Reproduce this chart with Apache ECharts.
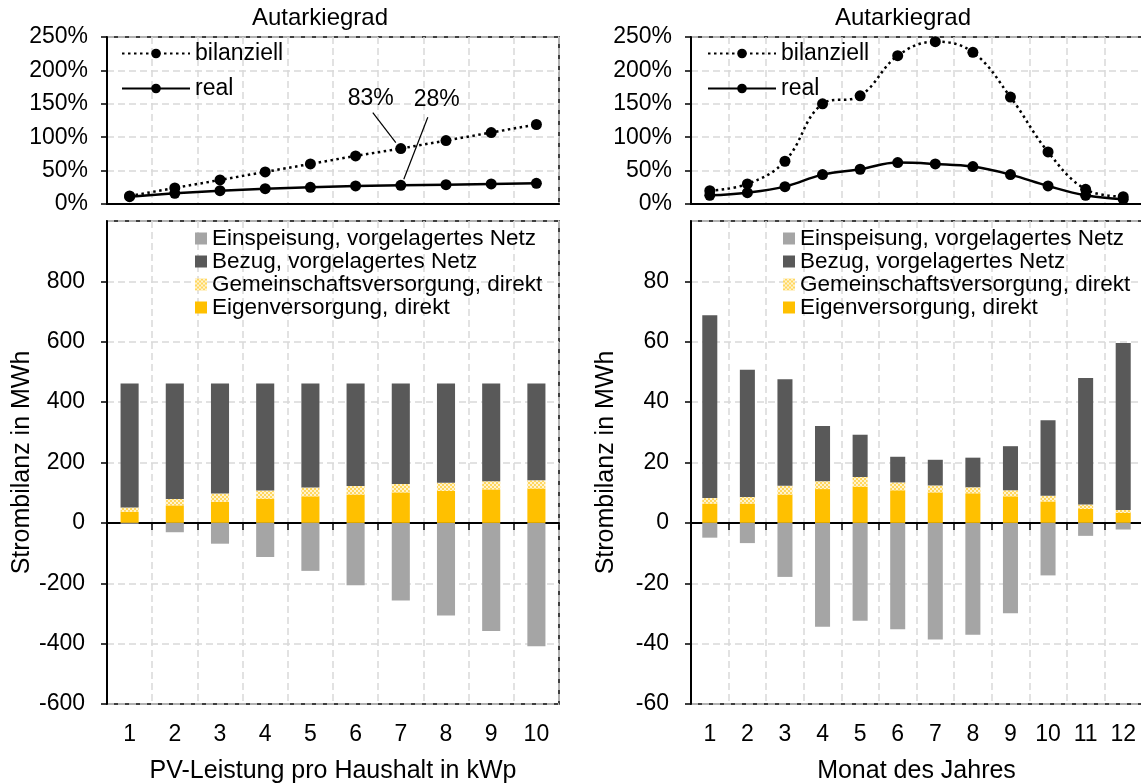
<!DOCTYPE html>
<html>
<head>
<meta charset="utf-8">
<script src="https://cdn.jsdelivr.net/npm/echarts@6/dist/echarts.min.js"></script>
<style>
  html, body { margin: 0; padding: 0; background: #fff; }
  #chart { width: 1141px; height: 784px; }
</style>
</head>
<body>
<div id="chart"></div>
<script>
// PV-Leistung pro Haushalt (kWp) - linke Seite
const kwpCats = ['1', '2', '3', '4', '5', '6', '7', '8', '9', '10'];
const kwpBilanziell = [12, 24, 36, 48, 60, 72, 83, 95, 107, 119];
const kwpReal = [11, 16, 20, 23, 25, 27, 28, 29, 30, 31];
const kwpEigen = [37, 58, 70, 80, 88, 94, 101, 106, 111, 114];
const kwpGemein = [14, 21, 27, 27, 29, 28, 28, 27, 27, 27];
const kwpBezug = [411, 383, 365, 355, 345, 340, 333, 329, 324, 321];
const kwpEinsp = [-3, -31, -69, -113, -159, -207, -257, -307, -358, -409];

// Monate - rechte Seite
const monthCats = ['1', '2', '3', '4', '5', '6', '7', '8', '9', '10', '11', '12'];
const monthBilanziell = [20, 30, 64, 150, 162, 222, 243, 227, 160, 78, 22, 11];
const monthReal = [13, 17, 26, 44, 52, 62, 60, 56, 44, 27, 13, 7];
const monthEigen = [6.4, 6.4, 9.4, 11.2, 12.0, 10.8, 10.1, 9.8, 8.8, 7.1, 4.6, 3.3];
const monthGemein = [1.8, 2.2, 2.9, 2.6, 3.2, 2.6, 2.3, 2.0, 2.0, 1.9, 1.5, 1.0];
const monthBezug = [60.6, 42.1, 35.3, 18.3, 14.0, 8.5, 8.5, 9.8, 14.6, 25.0, 41.9, 55.3];
const monthEinsp = [-4.9, -6.7, -17.9, -34.4, -32.4, -35.2, -38.6, -37.1, -29.9, -17.4, -4.3, -2.2];

const pctTicks = { min: 0, max: 250, interval: 50 };
const kwpTicks = { min: -600, max: 1000, interval: 200 };
const monthTicks = { min: -60, max: 100, interval: 20 };

const FONT = 'Liberation Sans, Arial, sans-serif';
const names = {
    einsp: 'Einspeisung, vorgelagertes Netz',
    bezug: 'Bezug, vorgelagertes Netz',
    gemein: 'Gemeinschaftsversorgung, direkt',
    eigen: 'Eigenversorgung, direkt'
};

function makeHatch() {
    const c = document.createElement('canvas');
    c.width = 4; c.height = 4;
    const ctx = c.getContext('2d');
    ctx.fillStyle = '#FFD75E';
    ctx.fillRect(0, 0, 4, 4);
    ctx.fillStyle = '#FFF3CF';
    ctx.fillRect(0, 0, 2, 2);
    ctx.fillRect(2, 2, 2, 2);
    return c;
}
const hatch = { image: makeHatch(), repeat: 'repeat' };

const dashGrid = { show: true, lineStyle: { color: '#d9d9d9', type: [7, 4], width: 1.5 } };

function catAxis(gridIndex, data, showLabels) {
    return {
        type: 'category', gridIndex, data,
        axisLine: { lineStyle: { color: '#000', width: 2 } },
        axisTick: { show: showLabels, length: 7, lineStyle: { color: '#000', width: 1.5 } },
        axisLabel: { show: showLabels, color: '#000', fontSize: 23, fontFamily: FONT, margin: 19 },
        splitLine: dashGrid
    };
}

function valAxis(gridIndex, ticks, fmt, margin) {
    return {
        type: 'value', gridIndex,
        min: ticks.min, max: ticks.max, interval: ticks.interval,
        axisLine: { show: true, lineStyle: { color: '#000', width: 2 } },
        axisTick: { show: true, length: 6, lineStyle: { color: '#000', width: 1.5 } },
        axisLabel: { color: '#000', fontSize: 23, fontFamily: FONT, margin, formatter: fmt },
        splitLine: dashGrid
    };
}

function lineSeries(name, data, idx, dotted, smooth) {
    return {
        name, type: 'line', data, xAxisIndex: idx, yAxisIndex: idx,
        smooth: smooth ? 0.4 : false,
        symbol: 'circle', symbolSize: 11,
        itemStyle: { color: '#000' },
        lineStyle: { color: '#000', width: 2.5, type: dotted ? [2.5, 3.5] : 'solid' },
        z: 5
    };
}

function barSeries(name, data, idx, color, stack) {
    return {
        name, type: 'bar', data, xAxisIndex: idx, yAxisIndex: idx,
        stack, barWidth: '40%',
        itemStyle: { color },
        emphasis: { disabled: true }
    };
}

function gridBox(left, top, width, height) {
    return { left, top, width, height, show: true, borderColor: '#000', borderWidth: 1.5, outerBoundsMode: 'none', containLabel: false };
}

const chart = echarts.init(document.getElementById('chart'), null, { renderer: 'canvas' });

const xAxes = [catAxis(0, kwpCats, false), catAxis(1, monthCats, false), catAxis(2, kwpCats, true), catAxis(3, monthCats, true)];
xAxes[2].name = 'PV-Leistung pro Haushalt in kWp';
xAxes[3].name = 'Monat des Jahres';
[2, 3].forEach(i => {
    xAxes[i].nameLocation = 'middle';
    xAxes[i].nameGap = 55;
    xAxes[i].nameTextStyle = { color: '#000', fontSize: 25, fontFamily: FONT };
});

const pctFmt = '{value}%';
const yAxes = [valAxis(0, pctTicks, pctFmt, 19), valAxis(1, pctTicks, pctFmt, 19), valAxis(2, kwpTicks, null, 22), valAxis(3, monthTicks, null, 22)];
yAxes[2].axisLabel.showMaxLabel = false;
yAxes[3].axisLabel.showMaxLabel = false;
[2, 3].forEach(i => {
    yAxes[i].name = 'Strombilanz in MWh';
    yAxes[i].nameLocation = 'middle';
    yAxes[i].nameGap = 72;
    yAxes[i].nameTextStyle = { color: '#000', fontSize: 25, fontFamily: FONT };
});

const legendText = { color: '#000', fontSize: 23, fontFamily: FONT };
const barLegendText = { color: '#000', fontSize: 22.5, fontFamily: FONT, lineHeight: 22.5 };
const barLegendNames = [names.einsp, names.bezug, names.gemein, names.eigen];

const option = {
    animation: false,
    backgroundColor: '#fff',
    textStyle: { fontFamily: FONT },
    grid: [
        gridBox(107, 37, 452, 167),
        gridBox(691, 37, 451, 167),
        gridBox(107, 221, 452, 483),
        gridBox(691, 221, 451, 483)
    ],
    xAxis: xAxes,
    yAxis: yAxes,
    legend: [
        { data: ['bilanziell', 'real'], orient: 'vertical', left: 121, top: 42, padding: 0, itemWidth: 68, itemHeight: 12, itemGap: 12, textStyle: legendText, selectedMode: false },
        { data: ['bilanziell', 'real'], orient: 'vertical', left: 707, top: 42, padding: 0, itemWidth: 68, itemHeight: 12, itemGap: 12, textStyle: legendText, selectedMode: false },
        { data: barLegendNames, orient: 'vertical', left: 195, top: 227, padding: 0, icon: 'rect', itemWidth: 12, itemHeight: 12, itemGap: 0, textStyle: barLegendText, selectedMode: false },
        { data: barLegendNames, orient: 'vertical', left: 783, top: 227, padding: 0, icon: 'rect', itemWidth: 12, itemHeight: 12, itemGap: 0, textStyle: barLegendText, selectedMode: false }
    ],
    series: [
        lineSeries('bilanziell', kwpBilanziell, 0, true, false),
        lineSeries('real', kwpReal, 0, false, false),
        lineSeries('bilanziell', monthBilanziell, 1, true, true),
        lineSeries('real', monthReal, 1, false, true),
        barSeries(names.eigen, kwpEigen, 2, '#FFC000', 'L'),
        barSeries(names.gemein, kwpGemein, 2, hatch, 'L'),
        barSeries(names.bezug, kwpBezug, 2, '#595959', 'L'),
        barSeries(names.einsp, kwpEinsp, 2, '#A5A5A5', 'L'),
        barSeries(names.eigen, monthEigen, 3, '#FFC000', 'R'),
        barSeries(names.gemein, monthGemein, 3, hatch, 'R'),
        barSeries(names.bezug, monthBezug, 3, '#595959', 'R'),
        barSeries(names.einsp, monthEinsp, 3, '#A5A5A5', 'R')
    ]
};
chart.setOption(option);

// Titel und Beschriftungen der Punkte bei 7 kWp
const p83 = chart.convertToPixel({ xAxisIndex: 0, yAxisIndex: 0 }, [6, kwpBilanziell[6]]);
const p28 = chart.convertToPixel({ xAxisIndex: 0, yAxisIndex: 0 }, [6, kwpReal[6]]);
const titleFont = '24px ' + FONT;
const noteFont = '23px ' + FONT;
chart.setOption({
    graphic: [
        { type: 'text', x: 320, y: 18, style: { text: 'Autarkiegrad', font: titleFont, fill: '#000', align: 'center', verticalAlign: 'middle' } },
        { type: 'text', x: 903, y: 18, style: { text: 'Autarkiegrad', font: titleFont, fill: '#000', align: 'center', verticalAlign: 'middle' } },
        { type: 'text', x: p83[0] - 30, y: p83[1] - 50, z: 10, style: { text: kwpBilanziell[6] + '%', font: noteFont, fill: '#000', align: 'center', verticalAlign: 'middle' } },
        { type: 'text', x: p28[0] + 36, y: p28[1] - 86, z: 10, style: { text: kwpReal[6] + '%', font: noteFont, fill: '#000', align: 'center', verticalAlign: 'middle' } },
        { type: 'line', z: 10, shape: { x1: p83[0] - 28, y1: p83[1] - 36, x2: p83[0] - 5, y2: p83[1] - 6 }, style: { stroke: '#000', lineWidth: 1.2 } },
        { type: 'line', z: 10, shape: { x1: p28[0] + 27, y1: p28[1] - 68, x2: p28[0] + 3, y2: p28[1] - 6 }, style: { stroke: '#000', lineWidth: 1.2 } }
    ]
});
</script>
</body>
</html>
